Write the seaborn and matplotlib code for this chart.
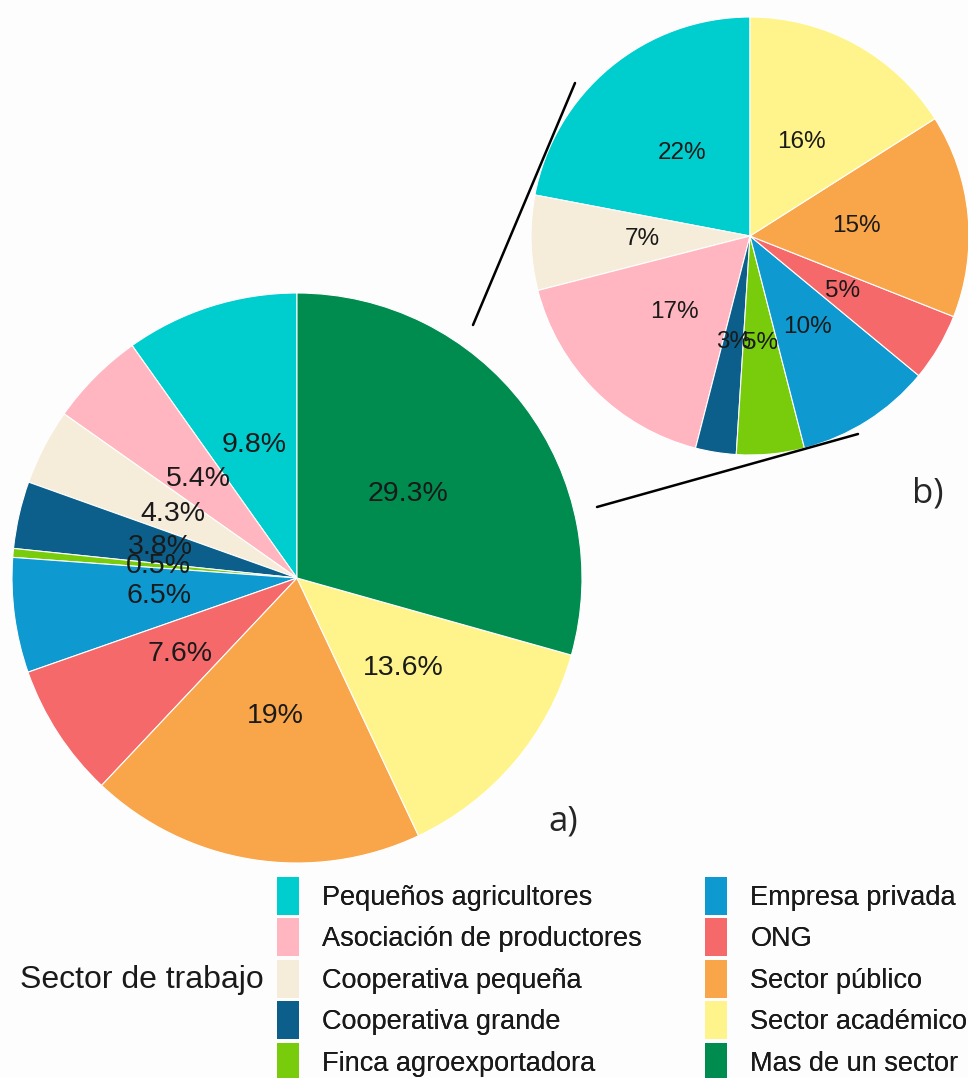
import matplotlib.pyplot as plt
import seaborn as sns
from matplotlib.lines import Line2D
from matplotlib.patches import Patch

# data
sectores = [
    "Pequeños agricultores", "Asociación de productores", "Cooperativa pequeña",
    "Cooperativa grande", "Finca agroexportadora", "Empresa privada", "ONG",
    "Sector público", "Sector académico", "Mas de un sector",
]
colores = [
    "#00CDCD", "#FFB6C1", "#F6ECDA", "#0B5F8A", "#78CC0C",
    "#0E99D0", "#F5696B", "#F9A54A", "#FFF48C", "#008B4F",
]
pct_a = [9.8, 5.4, 4.3, 3.8, 0.5, 6.5, 7.6, 19, 13.6, 29.3]

# pie b) uses a different order and has no "Mas de un sector"
sectores_b = [
    "Pequeños agricultores", "Cooperativa pequeña", "Asociación de productores",
    "Cooperativa grande", "Finca agroexportadora", "Empresa privada", "ONG",
    "Sector público", "Sector académico",
]
pct_b = [22, 7, 17, 3, 5, 10, 5, 15, 16]

W, H = 968, 1078

sns.set_theme(style="white")
plt.rcParams['font.family'] = ['Liberation Sans', 'DejaVu Sans']
pal = dict(zip(sectores, sns.color_palette(colores)))

fig = plt.figure(figsize=(W / 100, H / 100), dpi=100)
fig.patch.set_facecolor("#fdfdfd")


def px_axes(cx, cy, r):
    """square axes in pixel coords around a pie centre"""
    return fig.add_axes([(cx - r) / W, 1 - (cy + r) / H, 2 * r / W, 2 * r / H])


def draw_pie(ax, names, values, size):
    labels = iter(f"{v:g}%" for v in values)
    ax.pie(values, colors=[pal[n] for n in names], startangle=90, counterclock=True,
           autopct=lambda p: next(labels), pctdistance=0.49, radius=1,
           wedgeprops=dict(edgecolor="white", linewidth=0.8),
           textprops=dict(fontsize=size, color="#1a1a1a"))
    ax.set_xlim(-1, 1)
    ax.set_ylim(-1, 1)
    ax.set_aspect("equal")
    ax.axis("off")


ax_a = px_axes(297, 578, 285)
draw_pie(ax_a, sectores, pct_a, 20.5)

ax_b = px_axes(750, 236, 219)
draw_pie(ax_b, sectores_b, pct_b, 17.5)

# connector lines between the two pies
for (x0, y0), (x1, y1) in [((473, 325), (575, 83)), ((597, 507), (858, 434))]:
    fig.add_artist(Line2D([x0 / W, x1 / W], [1 - y0 / H, 1 - y1 / H],
                          transform=fig.transFigure, color="black", lw=1.8))

fig.text(563 / W, 1 - 822 / H, "a)", fontsize=25, family="Open Sans",
         ha="center", va="center")
fig.text(928 / W, 1 - 493 / H, "b)", fontsize=25, family="Open Sans",
         ha="center", va="center")

# legend: two columns placed separately so the second column stays in frame
leg_kw = dict(loc="upper left", frameon=False, fontsize=19.5,
              handlelength=0.83, handleheight=1.78, handletextpad=0.85,
              labelspacing=0.13, borderpad=0, borderaxespad=0,
              labelcolor="#1a1a1a")
for col, x_key in enumerate([277, 705]):
    names = sectores[col * 5:(col + 1) * 5]
    handles = [Patch(facecolor=pal[n], edgecolor="none") for n in names]
    leg = fig.legend(handles, names, bbox_to_anchor=(x_key / W, 1 - 877 / H), **leg_kw)
    fig.add_artist(leg)

fig.text(20 / W, 1 - 980 / H, "Sector de trabajo", fontsize=23,
         ha="left", va="center", color="#1a1a1a")

fig.savefig("out.png", dpi=100, facecolor=fig.get_facecolor())
